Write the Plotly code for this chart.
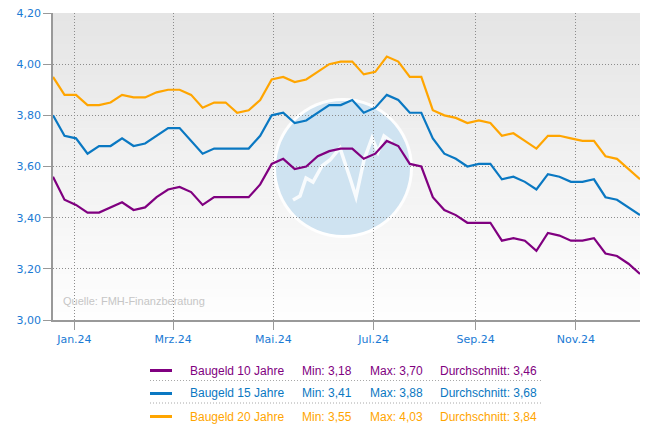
import plotly.graph_objects as go
import pandas as pd

# ---------------- data ----------------
start_date = "2023-12-19"
n_weeks = 52

series_names = ["Baugeld 10 Jahre", "Baugeld 15 Jahre", "Baugeld 20 Jahre"]

baugeld_10 = [3.56, 3.47, 3.45, 3.42, 3.42, 3.44, 3.46, 3.43, 3.44, 3.48,
              3.51, 3.52, 3.50, 3.45, 3.48, 3.48, 3.48, 3.48, 3.53, 3.61,
              3.63, 3.59, 3.60, 3.64, 3.66, 3.67, 3.67, 3.63, 3.65, 3.70,
              3.68, 3.61, 3.60, 3.48, 3.43, 3.41, 3.38, 3.38, 3.38, 3.31,
              3.32, 3.31, 3.27, 3.34, 3.33, 3.31, 3.31, 3.32, 3.26, 3.25,
              3.22, 3.18]

baugeld_15 = [3.80, 3.72, 3.71, 3.65, 3.68, 3.68, 3.71, 3.68, 3.69, 3.72,
              3.75, 3.75, 3.70, 3.65, 3.67, 3.67, 3.67, 3.67, 3.72, 3.80,
              3.81, 3.77, 3.78, 3.81, 3.84, 3.84, 3.86, 3.81, 3.83, 3.88,
              3.86, 3.81, 3.81, 3.71, 3.65, 3.63, 3.60, 3.61, 3.61, 3.55,
              3.56, 3.54, 3.51, 3.57, 3.56, 3.54, 3.54, 3.55, 3.48, 3.47,
              3.44, 3.41]

baugeld_20 = [3.95, 3.88, 3.88, 3.84, 3.84, 3.85, 3.88, 3.87, 3.87, 3.89,
              3.90, 3.90, 3.88, 3.83, 3.85, 3.85, 3.81, 3.82, 3.86, 3.94,
              3.95, 3.93, 3.94, 3.97, 4.00, 4.01, 4.01, 3.96, 3.97, 4.03,
              4.01, 3.95, 3.95, 3.82, 3.80, 3.79, 3.77, 3.78, 3.77, 3.72,
              3.73, 3.70, 3.67, 3.72, 3.72, 3.71, 3.70, 3.70, 3.64, 3.63,
              3.59, 3.55]

series_colors = ["#800080", "#0a78c2", "#ffa500"]

y_tick_vals = [3.0, 3.2, 3.4, 3.6, 3.8, 4.0, 4.2]
y_tick_text = ["3,00", "3,20", "3,40", "3,60", "3,80", "4,00", "4,20"]

x_tick_vals = ["2024-01-01", "2024-03-01", "2024-05-01", "2024-07-01", "2024-09-01", "2024-11-01"]
x_tick_text = ["Jan.24", "Mrz.24", "Mai.24", "Jul.24", "Sep.24", "Nov.24"]

source_text = "Quelle: FMH-Finanzberatung"

# ---------------- figure ----------------
dates = pd.date_range(start_date, periods=n_weeks, freq="7D")
all_series = [baugeld_10, baugeld_15, baugeld_20]

W, H = 660, 440
L, R, T, B = 53, 20, 13, 120
PW, PH = W - L - R, H - T - B


def pxx(x):
    return (x - L) / PW


def pxy(y):
    return (T + PH - y) / PH


fig = go.Figure()
for name, vals, col in zip(series_names, all_series, series_colors):
    fig.add_trace(go.Scatter(x=dates, y=vals, mode="lines", name=name,
                             line=dict(color=col, width=2.2), showlegend=False,
                             hoverinfo="skip"))

shapes = []
# vertical gradient background
n_strips = 40
c_top, c_bot = 229, 254
for k in range(n_strips):
    t = k / (n_strips - 1)
    c = round(c_top + (c_bot - c_top) * t)
    shapes.append(dict(type="rect", xref="paper", yref="paper",
                       x0=0, x1=1, y1=1 - k / n_strips, y0=1 - (k + 1) / n_strips - 0.002,
                       fillcolor=f"rgb({c},{c},{c})", line=dict(width=0), layer="below"))

# globe watermark
cx, cy, r = 343, 168, 67
shapes.append(dict(type="circle", xref="paper", yref="paper",
                   x0=pxx(cx - r - 3), x1=pxx(cx + r + 3), y0=pxy(cy + r + 3), y1=pxy(cy - r - 3),
                   fillcolor="rgba(255,255,255,0.9)", line=dict(width=0), layer="below"))
shapes.append(dict(type="circle", xref="paper", yref="paper",
                   x0=pxx(cx - r), x1=pxx(cx + r), y0=pxy(cy + r), y1=pxy(cy - r),
                   fillcolor="rgb(207,227,241)", line=dict(width=0), layer="below"))
zig = [(293, 200), (300, 196), (306, 178), (313, 182), (322, 166), (330, 160),
       (340, 148), (350, 178), (356, 197), (364, 160), (372, 138), (378, 152), (384, 136), (392, 142)]
path = "M " + " L ".join(f"{pxx(x):.5f},{pxy(y):.5f}" for x, y in zig)
shapes.append(dict(type="path", xref="paper", yref="paper", path=path,
                   line=dict(color="rgba(255,255,255,0.85)", width=3.5), layer="below"))

annotations = [dict(text=source_text, xref="paper", yref="paper", x=pxx(61), y=pxy(301),
                    xanchor="left", yanchor="middle", showarrow=False,
                    font=dict(family="Liberation Sans, Arial", size=11, color="#c6c6c6"))]

# custom legend
row_y = [370.5, 393.5, 416.5]
for i, (name, vals, col) in enumerate(zip(series_names, all_series, series_colors)):
    yy = pxy(row_y[i])
    shapes.append(dict(type="line", xref="paper", yref="paper",
                       x0=pxx(150), x1=pxx(172), y0=yy, y1=yy,
                       line=dict(color=col, width=3)))
    mn = f"{min(vals):.2f}".replace(".", ",")
    mx = f"{max(vals):.2f}".replace(".", ",")
    av = f"{sum(vals) / len(vals):.2f}".replace(".", ",")
    for xpos, txt in [(188, name), (300, "Min: " + mn), (368, "Max: " + mx),
                      (438, "Durchschnitt: " + av)]:
        annotations.append(dict(text=txt, xref="paper", yref="paper", x=pxx(xpos), y=yy,
                                 xanchor="left", yanchor="middle", showarrow=False,
                                 font=dict(family="Liberation Sans, Arial", size=12, color=col)))
for sy in [380.5, 403]:
    shapes.append(dict(type="line", xref="paper", yref="paper",
                       x0=pxx(150), x1=pxx(542), y0=pxy(sy), y1=pxy(sy),
                       line=dict(color="#a8a8a8", width=1, dash="1px,2px")))

tick_font = dict(family="DejaVu Sans, Verdana", size=11, color="#1a7ad4")

fig.update_layout(
    width=W, height=H,
    margin=dict(l=L, r=R, t=T, b=B, autoexpand=False),
    paper_bgcolor="white", plot_bgcolor="white",
    shapes=shapes, annotations=annotations,
    showlegend=False,
    xaxis=dict(range=[dates[0], dates[-1]], tickvals=x_tick_vals, ticktext=x_tick_text,
               showgrid=True, gridcolor="#8c8c8c", griddash="1px,2px", gridwidth=1,
               showline=True, linecolor="#999999", linewidth=1.5,
               ticks="outside", ticklen=8, tickcolor="#999999", tickwidth=1,
               tickfont=tick_font, zeroline=False, fixedrange=True, automargin=False),
    yaxis=dict(range=[3.0, 4.2], tickvals=y_tick_vals, ticktext=y_tick_text,
               showgrid=True, gridcolor="#8c8c8c", griddash="1px,2px", gridwidth=1,
               showline=True, linecolor="#999999", linewidth=1.5,
               ticks="outside", ticklen=8, tickcolor="#999999", tickwidth=1,
               tickfont=tick_font, zeroline=False, fixedrange=True, automargin=False),
)

fig.write_html("out.html", config={"displayModeBar": False},
               post_script="document.body.style.margin='0';")
